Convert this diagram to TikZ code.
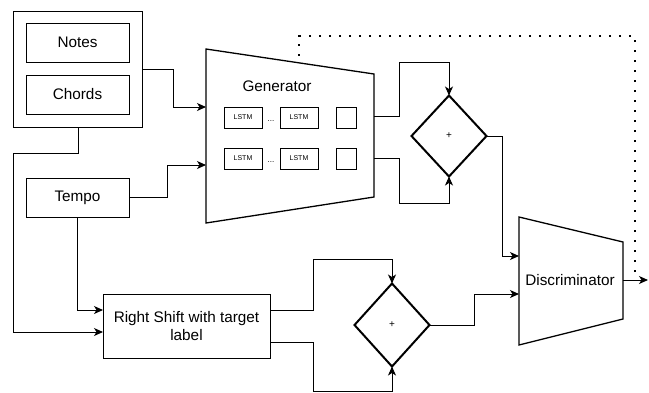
\documentclass[tikz,border=0pt]{standalone}
\usepackage{fontspec}
\setmainfont{Liberation Sans}
\usetikzlibrary{shapes.geometric,arrows.meta}
\tikzset{
  box/.style={draw,line width=1pt,inner sep=0pt,outer sep=0pt},
  sumnode/.style={draw,diamond,line width=2pt,inner sep=0pt,outer sep=0pt,font=\fontsize{10}{12}\selectfont},
  arr/.style={-{Stealth[length=9pt,width=8pt,inset=2.5pt]}},
  lstm/.style={box,minimum width=38pt,minimum height=21pt,font=\fontsize{7}{8}\selectfont},
}
\begin{document}
\begin{tikzpicture}[x=1pt,y=-1pt,line width=1pt,font=\fontsize{15.3}{18}\selectfont]
\useasboundingbox (0,0) rectangle (649,392);
\node[box,minimum width=129pt,minimum height=116pt] (input) at (77.5,69) {};
\node[box,minimum width=103pt,minimum height=39pt] (notes) at (77.5,42.5) {Notes};
\node[box,minimum width=103pt,minimum height=39pt] (chords) at (77.5,94.5) {Chords};
\node[box,minimum width=103pt,minimum height=39pt] (tempo) at (77.5,197.5) {Tempo};
\node[box,minimum width=167pt,minimum height=64pt,align=center] (shift) at (186.5,326) {Right Shift with target\\label};
% generator
\draw[line width=1.3pt] (206,49) -- (374,74) -- (374,197) -- (206,223) -- cycle;
\coordinate (gen-in1) at (206,107);
\coordinate (gen-in2) at (206,165);
\coordinate (gen-out1) at (374,116);
\coordinate (gen-out2) at (374,158);
\coordinate (gen-top) at (299,61);
\node (gen) at (277,86) {Generator};
\node[lstm] (l11) at (243,117.5) {LSTM};
\node[lstm] (l12) at (299,117.5) {LSTM};
\node[box,minimum width=20pt,minimum height=21pt] (o1) at (346,117.5) {};
\node[lstm] (l21) at (243,158.5) {LSTM};
\node[lstm] (l22) at (299,158.5) {LSTM};
\node[box,minimum width=20pt,minimum height=21pt] (o2) at (346,158.5) {};
\node[font=\fontsize{8}{9}\selectfont,inner sep=0pt] at (271,121) {...};
\node[font=\fontsize{8}{9}\selectfont,inner sep=0pt] at (271,162) {...};
% discriminator
\draw[line width=1.3pt] (519,217) -- (623,242) -- (623,319) -- (519,345) -- cycle;
\coordinate (dis-in1) at (519,256);
\coordinate (dis-in2) at (519,294);
\coordinate (dis-out) at (623,280);
\coordinate (dis-end) at (648,280);
\coordinate (fb) at (635,272);
\node (dis) at (570,280) {Discriminator};
\node[sumnode,minimum width=75pt,minimum height=81pt] (sum1) at (449,136) {+};
\node[sumnode,minimum width=75pt,minimum height=83pt] (sum2) at (392,325) {+};
\draw[arr] (input.east |- 0,69) -- (173,69) |- (gen-in1);
\draw[arr] (input.south -| 78,0) |- (13,153) |- ([yshift=-6pt]shift.west);
\draw[arr] (tempo.east) -- (167,197.5) |- (gen-in2);
\draw[arr] (tempo.south) |- ([yshift=16pt]shift.west);
\draw[arr] (gen-out1) -- (399,116) |- (449,62) -- (sum1.north);
\draw[arr] (gen-out2) -- (399,158) |- (449,203) -- (sum1.south);
\draw[arr] (sum1.east) -- (502,136) |- (dis-in1);
\draw[arr] ([yshift=16pt]shift.east) -- (313,310) |- (392,259) -- (sum2.north);
\draw[arr] ([yshift=-16pt]shift.east) -- (313,342) |- (392,391) -- (sum2.south);
\draw[arr] (sum2.east) -- (474,325) |- (dis-in2);
\draw[arr] (dis-out) -- (dis-end);
\draw[line width=2.2pt,dash pattern=on 2.2pt off 7.8pt] (fb) -- (635,36) -| (gen-top);
\end{tikzpicture}
\end{document}
